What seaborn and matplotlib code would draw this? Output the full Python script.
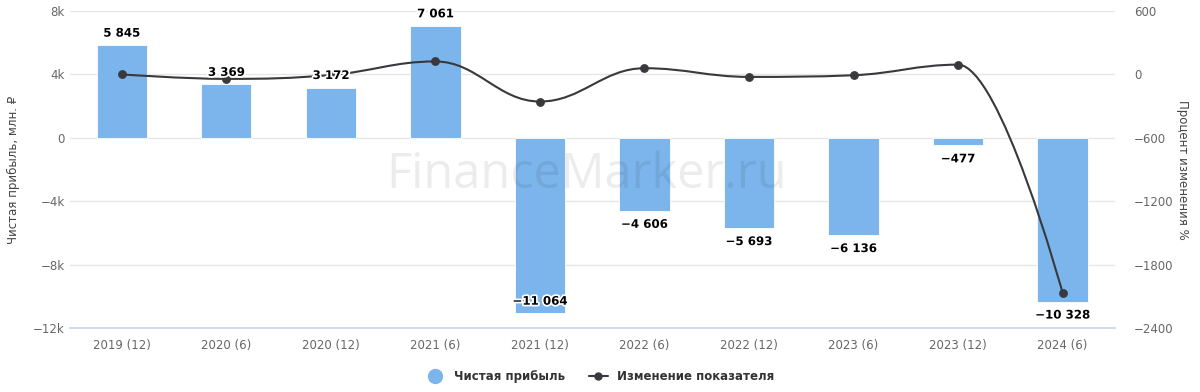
import numpy as np
import pandas as pd

import matplotlib

matplotlib.use("Agg")
import matplotlib.pyplot as plt
import matplotlib.patheffects as pe
from matplotlib.lines import Line2D
from matplotlib.path import Path
from matplotlib.patches import PathPatch
import seaborn as sns


PERIODS = ["2019 (12)", "2020 (6)", "2020 (12)", "2021 (6)", "2021 (12)",
           "2022 (6)", "2022 (12)", "2023 (6)", "2023 (12)", "2024 (6)"]
NET_PROFIT = [5845, 3369, 3172, 7061, -11064, -4606, -5693, -6136, -477, -10328]
CHANGE_PCT = [0, -42.4, -5.8, 122.6, -256.7, 58.4, -23.6, -7.8, 92.2, -2065.2]
PROFIT_LABELS = ["5 845", "3 369", "3 172", "7 061", "−11 064",
                 "−4 606", "−5 693", "−6 136", "−477", "−10 328"]
LEFT_TICKS = [-12000, -8000, -4000, 0, 4000, 8000]
LEFT_TICK_LABELS = ["−12k", "−8k", "−4k", "0", "4k", "8k"]
RIGHT_TICKS = [-2400, -1800, -1200, -600, 0, 600]
RIGHT_TICK_LABELS = ["−2400", "−1800", "−1200", "−600", "0", "600"]

BAR_COLOR = "#7cb5ec"
LINE_COLOR = "#38383d"
TICK_COLOR = "#666666"


def spline_path(xs, ys, smoothing=1.5):
    # cubic bezier through the points, highcharts-style spline
    denom = smoothing + 1
    n = len(xs)
    verts = [(xs[0], ys[0])]
    codes = [Path.MOVETO]
    right_prev = (xs[0], ys[0])
    for i in range(1, n):
        x, y = xs[i], ys[i]
        if i < n - 1:
            lx, ly = xs[i - 1], ys[i - 1]
            nx, ny = xs[i + 1], ys[i + 1]
            lcx = (smoothing * x + lx) / denom
            lcy = (smoothing * y + ly) / denom
            rcx = (smoothing * x + nx) / denom
            rcy = (smoothing * y + ny) / denom
            if rcx != lcx:
                corr = (rcy - lcy) * (rcx - x) / (rcx - lcx) + y - rcy
                lcy += corr
                rcy += corr
            if lcy > max(ly, y):
                lcy = max(ly, y)
                rcy = 2 * y - lcy
            elif lcy < min(ly, y):
                lcy = min(ly, y)
                rcy = 2 * y - lcy
            if rcy > max(y, ny):
                rcy = max(y, ny)
                lcy = 2 * y - rcy
            elif rcy < min(y, ny):
                rcy = min(y, ny)
                lcy = 2 * y - rcy
            left = (lcx, lcy)
            right = (rcx, rcy)
        else:
            left = (x, y)
            right = (x, y)
        verts += [right_prev, left, (x, y)]
        codes += [Path.CURVE4] * 3
        right_prev = right
    return Path(verts, codes)


def main():
    sns.set_theme(style="white")
    plt.rcParams.update({"font.family": ["DejaVu Sans"], "font.size": 8.5})

    df = pd.DataFrame({"period": PERIODS, "profit": NET_PROFIT, "change": CHANGE_PCT})
    xpos = np.arange(len(PERIODS))

    fig = plt.figure(figsize=(12, 3.92), dpi=100)
    ax = fig.add_axes([0.058, 0.163, 0.871, 0.809])

    sns.barplot(data=df, x="period", y="profit", color=BAR_COLOR, width=0.48,
                saturation=1, edgecolor="white", linewidth=0.6, ax=ax, zorder=2)
    ax.set_ylim(-12000, 8000)
    ax.set_xlim(-0.5, len(PERIODS) - 0.5)
    ax.set_yticks(LEFT_TICKS)
    ax.set_yticklabels(LEFT_TICK_LABELS)
    ax.grid(axis="y", color="#e6e6e6", linewidth=1, zorder=0)
    ax.set_axisbelow(True)
    for side in ("top", "right", "left"):
        ax.spines[side].set_visible(False)
    ax.spines["bottom"].set_color("#ccd6eb")
    ax.tick_params(axis="both", length=0, colors=TICK_COLOR, labelsize=8.5)
    ax.tick_params(axis="x", pad=8)
    ax.set_xlabel("")
    ax.set_ylabel("Чистая прибыль, млн. ₽", color="#444444", fontsize=8.5, labelpad=9)

    ax2 = ax.twinx()
    ax2.set_ylim(-2400, 600)
    ax2.set_yticks(RIGHT_TICKS)
    ax2.set_yticklabels(RIGHT_TICK_LABELS)
    ax2.tick_params(axis="y", length=0, colors=TICK_COLOR, labelsize=8.5, pad=14)
    for side in ("top", "right", "left", "bottom"):
        ax2.spines[side].set_visible(False)
    ax2.grid(False)
    ax2.set_ylabel("Процент изменения %", rotation=270, color="#444444",
                   fontsize=8.5, labelpad=11)

    ax2.add_patch(PathPatch(spline_path(xpos, CHANGE_PCT), facecolor="none",
                            edgecolor=LINE_COLOR, linewidth=1.5, zorder=4))
    sns.scatterplot(x=xpos, y=CHANGE_PCT, color=LINE_COLOR, s=34,
                    edgecolor=LINE_COLOR, ax=ax2, zorder=5, legend=False)
    ax2.set_xlim(-0.5, len(PERIODS) - 0.5)

    # bar labels on top of the line, placed in bar-axis data coords
    outline = [pe.withStroke(linewidth=2.5, foreground="white")]
    for i, (v, lab) in enumerate(zip(NET_PROFIT, PROFIT_LABELS)):
        if v >= 0:
            off, va = 4, "bottom"
        elif v < -11000:
            off, va = 4, "bottom"
        else:
            off, va = -5, "top"
        ax2.annotate(lab, (i, v), xycoords=ax.transData, xytext=(0, off),
                     textcoords="offset points", ha="center", va=va,
                     fontsize=8.5, fontweight="bold", color="black",
                     path_effects=outline, zorder=6)

    fig.text(0.489, 0.553, "FinanceMarker.ru", fontsize=35, color="black",
             alpha=0.075, ha="center", va="center", zorder=10,
             family=["Open Sans", "DejaVu Sans"])

    handles = [
        Line2D([0], [0], marker="o", linestyle="none", markersize=10,
               markerfacecolor=BAR_COLOR, markeredgecolor=BAR_COLOR),
        Line2D([0], [0], marker="o", color=LINE_COLOR, linewidth=1.5, markersize=5),
    ]
    leg = fig.legend(handles, ["Чистая прибыль", "Изменение показателя"],
                     loc="center", bbox_to_anchor=(0.5, 0.04), ncol=2,
                     frameon=False, handlelength=1.6, columnspacing=2,
                     prop={"weight": "bold", "size": 8.5})
    for t in leg.get_texts():
        t.set_color("#333333")

    fig.savefig("out.png", dpi=100)


if __name__ == "__main__":
    main()
